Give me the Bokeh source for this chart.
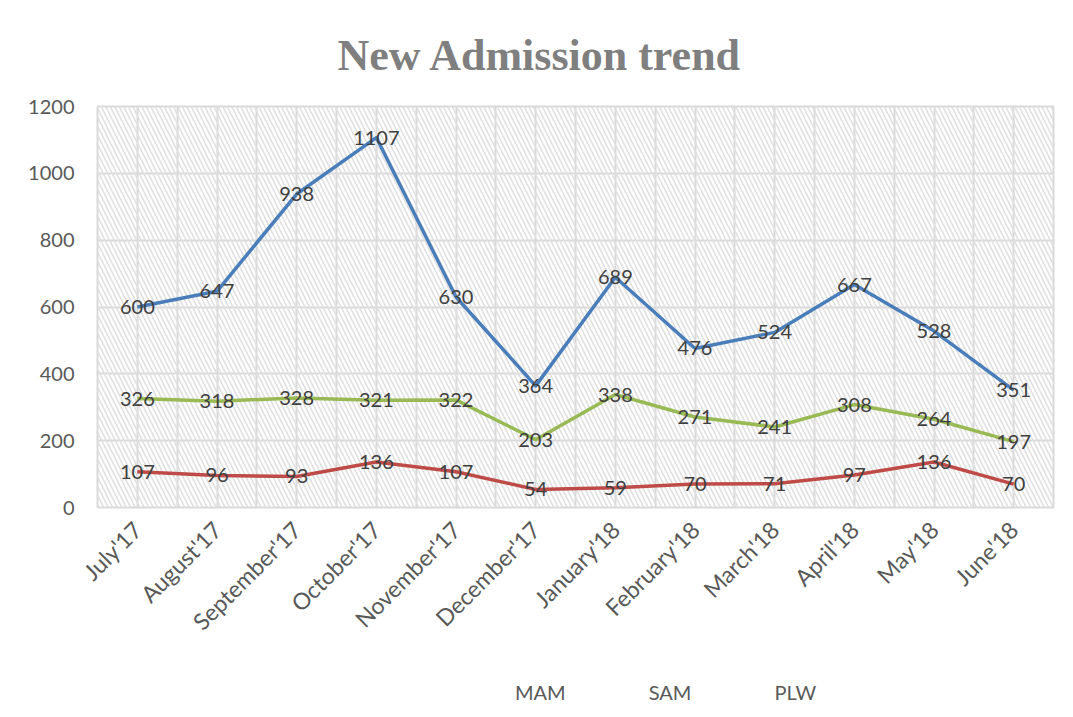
from bokeh.plotting import figure
from bokeh.layouts import column
from bokeh.models import (Range1d, BoxAnnotation, FixedTicker,
                          SingleIntervalTicker, Legend, LegendItem, ColumnDataSource)
from bokeh.core.properties import value
from bokeh.embed import file_html
from bokeh.resources import INLINE
import math

months = ["July'17", "August'17", "September'17", "October'17", "November'17", "December'17",
          "January'18", "February'18", "March'18", "April'18", "May'18", "June'18"]
mam = [600, 647, 938, 1107, 630, 364, 689, 476, 524, 667, 528, 351]
sam = [107, 96, 93, 136, 107, 54, 59, 70, 71, 97, 136, 70]
plw = [326, 318, 328, 321, 322, 203, 338, 271, 241, 308, 264, 197]
series_names = ["MAM", "SAM", "PLW"]
series_colors = ["#4a7ebb", "#be4b48", "#98b954"]

FONT = "Lato"
n = len(months)
xpos = [i + 0.5 for i in range(n)]

p = figure(width=1073, height=657, x_range=Range1d(0, n),
           y_range=Range1d(0, 1200), output_backend="svg", toolbar_location=None,
           min_border_left=97, min_border_right=20, min_border_top=106, min_border_bottom=150)

p.title.text = "New Admission trend"
p.title.text_font = "Liberation Serif"
p.title.text_font_size = "44px"
p.title.text_font_style = "bold"
p.title.text_color = "#7f7f7f"
p.title.align = "left"
p.title.offset = 240
p.title.standoff = 53

p.background_fill_color = "white"
p.border_fill_color = "white"
p.outline_line_color = "#d9d9d9"
p.outline_line_width = 2

# hatched plot area
p.add_layout(BoxAnnotation(fill_color="white", fill_alpha=0, line_alpha=0,
                           hatch_pattern="left_diagonal_line", hatch_color="#e0e0e0",
                           hatch_scale=9, hatch_weight=1.6, hatch_alpha=1.0, level="underlay"))

# grids
p.ygrid.grid_line_color = "#d9d9d9"
p.ygrid.grid_line_width = 2
p.yaxis.ticker = SingleIntervalTicker(interval=200)
p.xgrid.ticker = FixedTicker(ticks=[i * 0.5 for i in range(2 * n + 1)])
p.xgrid.grid_line_color = "#d9d9d9"
p.xgrid.grid_line_width = 2

# axes
p.xaxis.ticker = FixedTicker(ticks=xpos)
p.xaxis.major_label_overrides = {x: m for x, m in zip(xpos, months)}
for ax in (p.xaxis, p.yaxis):
    ax.axis_line_color = None
    ax.major_tick_line_color = None
    ax.minor_tick_line_color = None
    ax.major_label_text_font = FONT
    ax.major_label_text_color = "#595959"
p.yaxis.major_label_text_font_size = "20px"
p.xaxis.major_label_text_font_size = "23px"
p.yaxis.major_label_standoff = 17
p.xaxis.major_label_orientation = math.pi / 4
p.xaxis.major_label_standoff = 12

for vals, col in zip([mam, sam, plw], series_colors):
    src = ColumnDataSource(dict(x=xpos, y=vals))
    p.line("x", "y", source=src, line_color=col, line_width=3.5, line_join="round")
for vals in [mam, sam, plw]:
    src = ColumnDataSource(dict(x=xpos, y=vals, t=[str(v) for v in vals]))
    p.text("x", "y", text="t", source=src, text_align="center", text_baseline="middle",
           text_font=value(FONT), text_font_size="20px", text_color="#404040")

# legend strip below the chart
lg = figure(width=1073, height=60, x_axis_type=None, y_axis_type=None,
            output_backend="svg", toolbar_location=None, min_border=0,
            x_range=Range1d(0, 1), y_range=Range1d(0, 1))
lg.outline_line_color = None
lg.background_fill_color = "white"
lg.border_fill_color = "white"
lg.grid.visible = False
items = []
for name, col in zip(series_names, series_colors):
    r = lg.line(x=[], y=[], line_color=col, line_width=3.5)
    items.append(LegendItem(label=name, renderers=[r]))
legend = Legend(items=items, orientation="horizontal", location=(357, 13),
                glyph_width=55, glyph_height=20, label_standoff=6, spacing=22,
                label_text_font=FONT, label_text_font_size="20px", label_text_color="#595959",
                border_line_color=None, background_fill_alpha=0, margin=0, padding=10)
lg.add_layout(legend)

layout = column(p, lg, spacing=0)
open("out.html", "w").write(file_html(layout, INLINE))
